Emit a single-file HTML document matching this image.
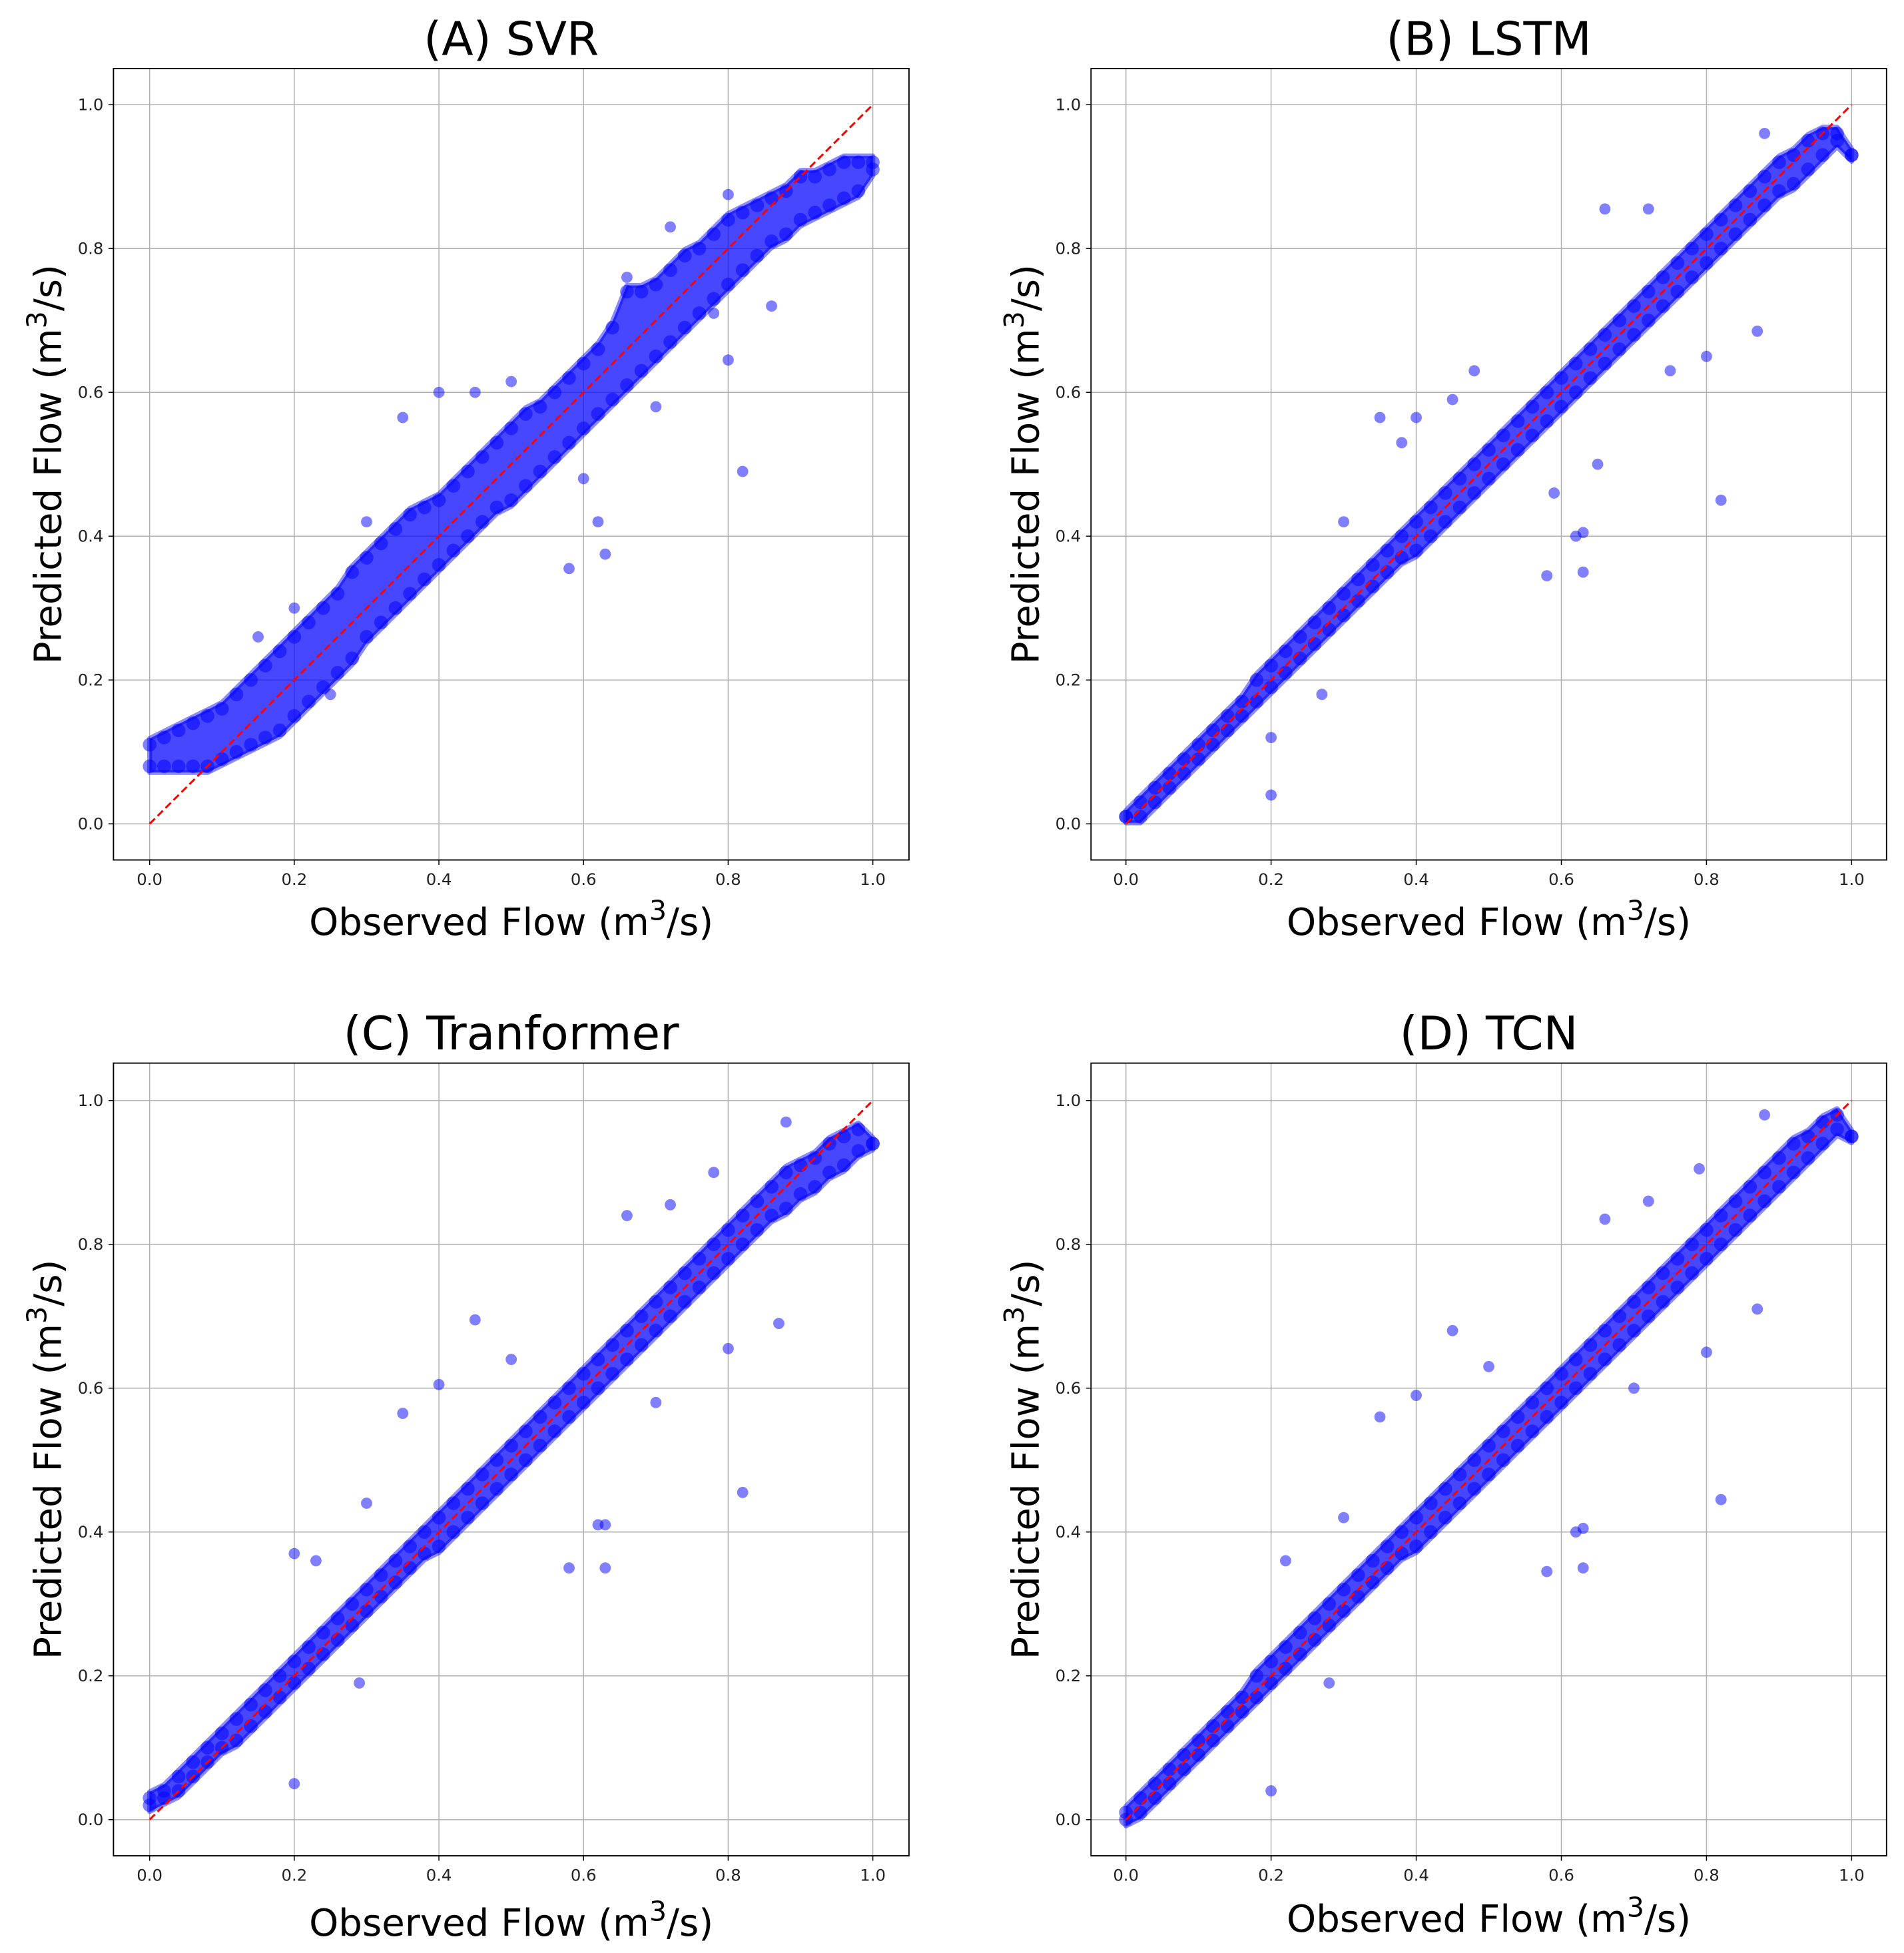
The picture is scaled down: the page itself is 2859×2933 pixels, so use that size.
<!DOCTYPE html>
<html><head><meta charset="utf-8"><style>
html,body{margin:0;padding:0;background:#fff}
svg{display:block}
text{font-family:"DejaVu Sans","Liberation Sans",sans-serif}
</style></head><body>
<svg id="fig" width="2859" height="2933" viewBox="0 0 1527 1567" preserveAspectRatio="none" xmlns="http://www.w3.org/2000/svg"></svg>
<script>
const ticks=[0,0.2,0.4,0.6,0.8,1.0];
const tickLabels=["0.0","0.2","0.4","0.6","0.8","1.0"];
const obs=[0,.02,.04,.06,.08,.10,.12,.14,.16,.18,.20,.22,.24,.26,.28,.30,.32,.34,.36,.38,.40,.42,.44,.46,.48,.50,.52,.54,.56,.58,.60,.62,.64,.66,.68,.70,.72,.74,.76,.78,.80,.82,.84,.86,.88,.90,.92,.94,.96,.98,1.00];
const svrHi=[.11,.12,.13,.14,.15,.16,.18,.20,.22,.24,.26,.28,.30,.32,.35,.37,.39,.41,.43,.44,.45,.47,.49,.51,.53,.55,.57,.58,.60,.62,.64,.66,.69,.74,.74,.75,.77,.79,.80,.82,.84,.85,.86,.87,.88,.90,.90,.91,.92,.92,.92];
const svrLo=[.08,.08,.08,.08,.08,.09,.10,.11,.12,.13,.15,.17,.19,.21,.23,.26,.28,.30,.32,.34,.36,.38,.40,.42,.44,.45,.47,.49,.51,.53,.55,.57,.59,.61,.63,.65,.67,.69,.71,.73,.75,.77,.79,.81,.82,.84,.85,.86,.87,.88,.91];
const lstmHi=[.01,.03,.05,.07,.09,.11,.13,.15,.17,.20,.22,.24,.26,.28,.30,.32,.34,.36,.38,.40,.42,.44,.46,.48,.50,.52,.54,.56,.58,.60,.62,.64,.66,.68,.70,.72,.74,.76,.78,.80,.82,.84,.86,.88,.90,.92,.93,.95,.96,.96,.93];
const lstmLo=[.01,.01,.03,.05,.07,.09,.11,.13,.15,.17,.19,.21,.23,.25,.27,.29,.31,.33,.35,.37,.38,.40,.42,.44,.46,.48,.50,.52,.54,.56,.58,.60,.62,.64,.66,.68,.70,.72,.74,.76,.78,.80,.82,.84,.86,.88,.89,.91,.93,.95,.93];
const trfHi=[.03,.04,.06,.08,.10,.12,.14,.16,.18,.20,.22,.24,.26,.28,.30,.32,.34,.36,.38,.40,.42,.44,.46,.48,.50,.52,.54,.56,.58,.60,.62,.64,.66,.68,.70,.72,.74,.76,.78,.80,.82,.84,.86,.88,.90,.91,.92,.94,.95,.96,.94];
const trfLo=[.02,.03,.04,.06,.08,.10,.11,.13,.15,.17,.19,.21,.23,.25,.27,.29,.31,.33,.35,.37,.38,.40,.42,.44,.46,.48,.50,.52,.54,.56,.58,.60,.62,.64,.66,.68,.70,.72,.74,.76,.78,.80,.82,.84,.85,.87,.88,.90,.91,.93,.94];
const tcnHi=[.01,.03,.05,.07,.09,.11,.13,.15,.17,.20,.22,.24,.26,.28,.30,.32,.34,.36,.38,.40,.42,.44,.46,.48,.50,.52,.54,.56,.58,.60,.62,.64,.66,.68,.70,.72,.74,.76,.78,.80,.82,.84,.86,.88,.90,.92,.94,.95,.97,.98,.95];
const tcnLo=[.00,.01,.03,.05,.07,.09,.11,.13,.15,.17,.19,.21,.23,.25,.27,.29,.31,.33,.35,.37,.38,.40,.42,.44,.46,.48,.50,.52,.54,.56,.58,.60,.62,.64,.66,.68,.70,.72,.74,.76,.78,.80,.82,.84,.86,.88,.90,.92,.94,.96,.95];
const svrOut=[[0.82,0.49],[0.58,0.355],[0.63,0.375],[0.62,0.42],[0.40,0.60],[0.45,0.60],[0.35,0.565],[0.50,0.615],[0.80,0.645],[0.86,0.72],[0.72,0.83],[0.78,0.71],[0.30,0.42],[0.20,0.30],[0.25,0.18],[0.15,0.26],[0.60,0.48],[0.70,0.58],[0.66,0.76],[0.80,0.875]];
const lstmOut=[[0.20,0.04],[0.82,0.45],[0.58,0.345],[0.63,0.35],[0.62,0.40],[0.63,0.405],[0.66,0.855],[0.72,0.855],[0.88,0.96],[0.35,0.565],[0.40,0.565],[0.45,0.59],[0.87,0.685],[0.80,0.65],[0.48,0.63],[0.38,0.53],[0.30,0.42],[0.27,0.18],[0.59,0.46],[0.65,0.5],[0.75,0.63],[0.20,0.12]];
const trfOut=[[0.20,0.05],[0.82,0.455],[0.58,0.35],[0.63,0.35],[0.62,0.41],[0.63,0.41],[0.45,0.695],[0.40,0.605],[0.35,0.565],[0.66,0.84],[0.72,0.855],[0.78,0.90],[0.87,0.69],[0.80,0.655],[0.88,0.97],[0.30,0.44],[0.20,0.37],[0.29,0.19],[0.50,0.64],[0.70,0.58],[0.23,0.36]];
const tcnOut=[[0.20,0.04],[0.82,0.445],[0.58,0.345],[0.63,0.35],[0.62,0.40],[0.63,0.405],[0.45,0.68],[0.40,0.59],[0.35,0.56],[0.66,0.835],[0.72,0.86],[0.79,0.905],[0.87,0.71],[0.80,0.65],[0.88,0.98],[0.30,0.42],[0.22,0.36],[0.28,0.19],[0.50,0.63],[0.70,0.60]];
const titles=["(A) SVR","(B) LSTM","(C) Tranformer","(D) TCN"];

const NS="http://www.w3.org/2000/svg";
const fig=document.getElementById('fig');
function mk(tag,attrs,parent){const e=document.createElementNS(NS,tag);for(const k in attrs)e.setAttribute(k,attrs[k]);parent.appendChild(e);return e;}

const panels=[
 {L:91,R:729,T:55,B:690,x0:120,x1:700,y0:661,y1:84,hi:svrHi,lo:svrLo,out:svrOut,xl:750},
 {L:875,R:1513,T:55,B:690,x0:903,x1:1485,y0:661,y1:84,hi:lstmHi,lo:lstmLo,out:lstmOut,xl:750},
 {L:91,R:729,T:853,B:1489,x0:120,x1:700,y0:1460,y1:883,hi:trfHi,lo:trfLo,out:trfOut,xl:1553},
 {L:875,R:1513,T:853,B:1489,x0:903,x1:1485,y0:1460,y1:883,hi:tcnHi,lo:tcnLo,out:tcnOut,xl:1550}
];
panels.forEach((p,i)=>{
 const sx=v=>p.x0+(p.x1-p.x0)*v, sy=v=>p.y0+(p.y1-p.y0)*v;
 const g=mk('g',{},fig);
 
 
 const grid=mk('g',{stroke:'#b0b0b0','stroke-width':0.8},g);
 
 
 ticks.forEach((t,k)=>{
  mk('line',{x1:sx(t),x2:sx(t),y1:p.T,y2:p.B},grid);
  mk('line',{x1:p.L,x2:p.R,y1:sy(t),y2:sy(t)},grid);
  mk('line',{x1:sx(t),x2:sx(t),y1:p.B,y2:p.B+4,stroke:'#000','stroke-width':0.8},g);
  mk('line',{x1:p.L-4,x2:p.L,y1:sy(t),y2:sy(t),stroke:'#000','stroke-width':0.8},g);
  const xt=mk('text',{x:sx(t),y:p.B+20,'text-anchor':'middle','font-size':13,fill:'#222'},g);
  xt.textContent=tickLabels[k];
  
  
  const yt=mk('text',{x:p.L-8,y:sy(t)+4.5,'text-anchor':'end','font-size':13,fill:'#222'},g);
  yt.textContent=tickLabels[k];
  
  
 });
 const n=Math.min(obs.length,p.hi.length,p.lo.length);
 // dense band between hi and lo series
 let up=[],dn=[];
 for(let j=0;j<n;j++){up.push(sx(obs[j])+','+(sy(p.hi[j])-5));dn.unshift(sx(obs[j])+','+(sy(p.lo[j])+5));}
 const band=mk('polygon',{points:up.concat(dn).join(' '),fill:'#0000ff','fill-opacity':0.72,stroke:'#0000ff','stroke-opacity':0.45,'stroke-width':4,'stroke-linejoin':'round'},g);
 
 
 const pts=mk('g',{fill:'#0000ff','fill-opacity':0.5},g);
 
 
 for(let j=0;j<n;j++){
  mk('circle',{cx:sx(obs[j]),cy:sy(p.hi[j]),r:5.5},pts);
  mk('circle',{cx:sx(obs[j]),cy:sy(p.lo[j]),r:5.5},pts);
 }
 p.out.forEach(o=>{mk('circle',{cx:sx(o[0]),cy:sy(o[1]),r:4.5},pts);});
 const dl=mk('line',{x1:sx(0),y1:sy(0),x2:sx(1),y2:sy(1),stroke:'#ff0000','stroke-width':1.6,'stroke-dasharray':'6 3'},g);
 
 
 const fr=mk('rect',{x:p.L,y:p.T,width:p.R-p.L,height:p.B-p.T,fill:'none',stroke:'#000','stroke-width':1},g);
 
 
 const tt=mk('text',{x:(p.L+p.R)/2,y:p.T-11,'text-anchor':'middle','font-size':37},g);
 tt.textContent=titles[i];
 
 
 const xl=mk('text',{x:(p.L+p.R)/2,y:p.xl,'text-anchor':'middle','font-size':30},g);
 xl.innerHTML='Observed Flow (m<tspan dy="-12" font-size="22">3</tspan><tspan dy="12">/s)</tspan>';
 
 
 const cy=(p.T+p.B)/2, cx=p.L-42;
 const yl=mk('text',{x:cx,y:cy,'text-anchor':'middle','font-size':30,transform:`rotate(-90 ${cx} ${cy})`},g);
 yl.innerHTML='Predicted Flow (m<tspan dy="-12" font-size="22">3</tspan><tspan dy="12">/s)</tspan>';
 
 
});
</script>
</body></html>
